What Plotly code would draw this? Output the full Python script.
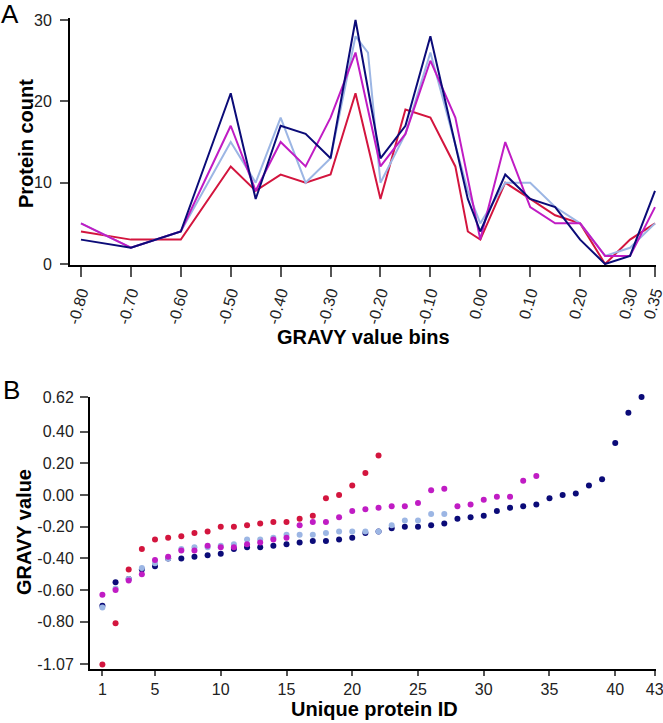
import plotly.graph_objects as go

W, H = 663, 723

# ---------------- Panel A data (protein counts per GRAVY bin) ----------------
navy_x = [-0.80, -0.70, -0.60, -0.50, -0.45, -0.40, -0.35, -0.30, -0.25, -0.20, -0.15, -0.10,
          -0.025, 0.00, 0.05, 0.10, 0.15, 0.20, 0.25, 0.30, 0.35]
navy_y = [3, 2, 4, 21, 8, 17, 16, 13, 30, 13, 17, 28, 8, 4, 11, 8, 7, 3, 0, 1, 9]

lblue_x = [-0.80, -0.70, -0.60, -0.50, -0.45, -0.40, -0.35, -0.30, -0.25, -0.225, -0.20, -0.15, -0.10,
           -0.025, 0.00, 0.05, 0.10, 0.15, 0.20, 0.25, 0.30, 0.35]
lblue_y = [5, 2, 4, 15, 10, 18, 10, 13, 28, 26, 10, 16, 26, 9, 5, 10, 10, 7, 5, 1, 2, 5]

pink_x = [-0.80, -0.70, -0.60, -0.50, -0.45, -0.40, -0.35, -0.30, -0.25, -0.20, -0.15, -0.10,
          -0.05, 0.00, 0.05, 0.10, 0.15, 0.20, 0.25, 0.30, 0.35]
pink_y = [5, 2, 4, 17, 9, 15, 12, 18, 26, 12, 16, 25, 18, 3, 15, 7, 5, 5, 1, 1, 7]

red_x = [-0.80, -0.70, -0.60, -0.50, -0.45, -0.40, -0.35, -0.30, -0.25, -0.20, -0.15, -0.10,
         -0.05, -0.025, 0.00, 0.05, 0.10, 0.15, 0.20, 0.25, 0.30, 0.35]
red_y = [4, 3, 3, 12, 9, 11, 10, 11, 21, 8, 19, 18, 12, 4, 3, 10, 8, 6, 5, 0, 3, 5]

binticks = [-0.80, -0.70, -0.60, -0.50, -0.40, -0.30, -0.20, -0.10, 0.00, 0.10, 0.20, 0.30, 0.35]
binlabels = ["-0.80", "-0.70", "-0.60", "-0.50", "-0.40", "-0.30", "-0.20", "-0.10",
             "0.00", "0.10", "0.20", "0.30", "0.35"]
count_ticks = [0, 10, 20, 30]

# ---------------- Panel B data (GRAVY value per unique protein) ----------------
navy_b = [-0.70, -0.55, -0.53, -0.47, -0.45, -0.40, -0.40, -0.39, -0.38, -0.37,
          -0.34, -0.33, -0.33, -0.32, -0.31, -0.30, -0.29, -0.29, -0.28, -0.27,
          -0.24, -0.23, -0.21, -0.20, -0.20, -0.19, -0.18, -0.15, -0.14, -0.13,
          -0.10, -0.08, -0.07, -0.06, -0.02, 0.00, 0.01, 0.06, 0.10, 0.33,
          0.52, 0.62]
lblue_b = [-0.71, -0.59, -0.53, -0.46, -0.43, -0.40, -0.34, -0.33, -0.33, -0.32,
           -0.31, -0.28, -0.28, -0.27, -0.25, -0.25, -0.25, -0.24, -0.23, -0.23,
           -0.23, -0.23, -0.19, -0.16, -0.16, -0.12, -0.12]
pink_b = [-0.63, -0.60, -0.54, -0.50, -0.41, -0.39, -0.35, -0.35, -0.32, -0.33,
          -0.33, -0.31, -0.30, -0.28, -0.27, -0.19, -0.17, -0.17, -0.14, -0.10,
          -0.09, -0.08, -0.07, -0.07, -0.05, 0.03, 0.04, -0.07, -0.06, -0.03,
          -0.01, -0.01, 0.09, 0.12]
red_b = [-1.07, -0.81, -0.47, -0.34, -0.28, -0.27, -0.26, -0.24, -0.23, -0.20,
         -0.20, -0.19, -0.18, -0.17, -0.17, -0.15, -0.13, -0.02, 0.00, 0.06,
         0.14, 0.25]
gravy_ticks = [-1.07, -0.80, -0.60, -0.40, -0.20, 0.00, 0.20, 0.40, 0.62]
gravy_labels = ["-1.07", "-0.80", "-0.60", "-0.40", "-0.20", "0.00", "0.20", "0.40", "0.62"]
id_ticks = [1, 5, 10, 15, 20, 25, 30, 35, 40, 43]

NAVY = "#0b0b78"
LBLUE = "#9cb6e4"
PINK = "#c01cc4"
RED = "#d3153e"

FONT = "Liberation Sans, Arial, sans-serif"


def fx(p):
    return p / W


def fy(p):
    return 1 - p / H


fig = go.Figure()

# Panel A lines
for xs, ys, c in [(red_x, red_y, RED), (lblue_x, lblue_y, LBLUE),
                  (pink_x, pink_y, PINK), (navy_x, navy_y, NAVY)]:
    fig.add_trace(go.Scatter(x=xs, y=ys, mode="lines", line=dict(color=c, width=2),
                             xaxis="x", yaxis="y", showlegend=False, hoverinfo="x+y"))

# Panel B points
for ys, c in [(navy_b, NAVY), (lblue_b, LBLUE), (pink_b, PINK), (red_b, RED)]:
    fig.add_trace(go.Scatter(x=list(range(1, len(ys) + 1)), y=ys, mode="markers",
                             marker=dict(color=c, size=6, line=dict(width=0)),
                             cliponaxis=False,
                             xaxis="x2", yaxis="y2", showlegend=False))


def ax(size, **kw):
    d = dict(showline=True, linecolor="black", linewidth=2, ticks="outside",
             tickcolor="#555555", tickwidth=1.5, showgrid=False, zeroline=False,
             automargin=False, ticklabeloverflow="allow",
             tickfont=dict(family=FONT, size=size, color="#222222"))
    d.update(kw)
    return d


fig.update_layout(
    template="none",
    width=W, height=H,
    margin=dict(l=0, r=0, t=0, b=0, autoexpand=False),
    paper_bgcolor="white", plot_bgcolor="white",
    xaxis=ax(16, domain=[fx(70), fx(656)], range=[-0.822, 0.352],
             tickvals=binticks, ticktext=binlabels, tickangle=-74, ticklen=10,
             anchor="y"),
    yaxis=ax(16, domain=[fy(265), fy(18)], range=[-0.12, 30.25],
             tickvals=count_ticks, ticklen=8, ticklabelstandoff=5, anchor="x"),
    xaxis2=ax(16, domain=[fx(90), fx(656)], range=[0.057, 43.1],
              tickvals=id_ticks, ticklen=5, anchor="y2"),
    yaxis2=ax(16, domain=[fy(669), fy(397)], range=[-1.099, 0.62],
              tickvals=gravy_ticks, ticktext=gravy_labels, ticklen=8,
              ticklabelstandoff=3, anchor="x2"),
)

ann_font = dict(family=FONT, size=20, color="black")
anns = [
    dict(text="A", x=fx(10), y=fy(14), font=dict(family=FONT, size=26, color="black")),
    dict(text="B", x=fx(11), y=fy(390), font=dict(family=FONT, size=26, color="black")),
    dict(text="<b>Protein count</b>", x=fx(26), y=fy(144), textangle=-90, font=ann_font),
    dict(text="<b>GRAVY value bins</b>", x=fx(363), y=fy(337), font=ann_font),
    dict(text="<b>GRAVY value</b>", x=fx(24), y=fy(532), textangle=-90, font=ann_font),
    dict(text="<b>Unique protein ID</b>", x=fx(374), y=fy(709), font=ann_font),
]
for a in anns:
    fig.add_annotation(xref="paper", yref="paper", xanchor="center", yanchor="middle",
                       showarrow=False, **a)

fig.write_html("out.html", config={"displayModeBar": False},
               post_script="document.body.style.margin='0';document.body.style.padding='0';"
                           "document.body.style.overflow='hidden';")
